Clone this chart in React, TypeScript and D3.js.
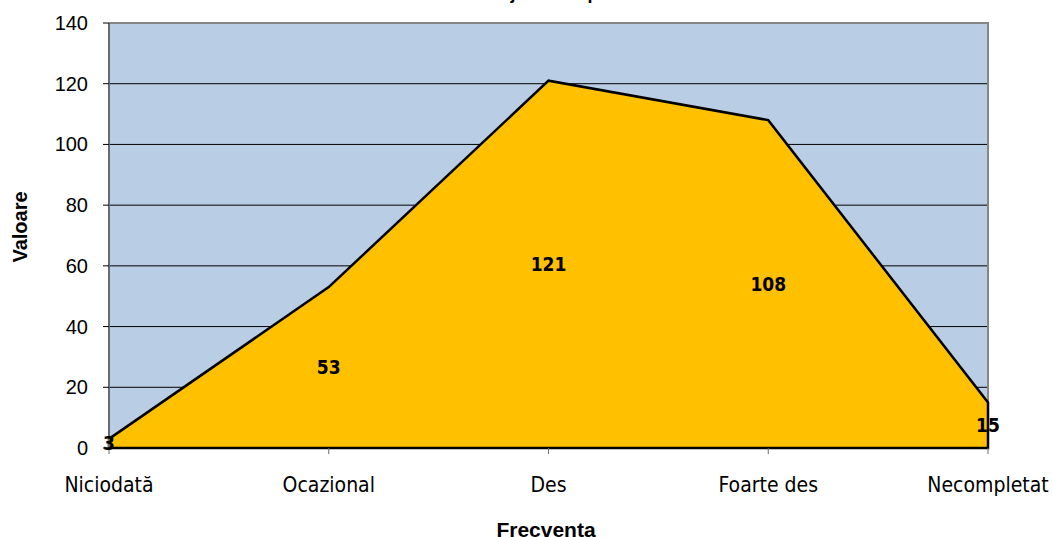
import React from 'react';
import * as d3 from 'd3';

const categories = ['Niciodată', 'Ocazional', 'Des', 'Foarte des', 'Necompletat'];
const values = [3, 53, 121, 108, 15];
const yTicks = [0, 20, 40, 60, 80, 100, 120, 140];

const W = 1052;
const H = 537;
const margin = { top: 23, right: 64, bottom: 89, left: 109 };

const App: React.FC = () => {
  const innerW = W - margin.left - margin.right;
  const innerH = H - margin.top - margin.bottom;

  const x = d3.scalePoint<string>().domain(categories).range([0, innerW]).padding(0);
  const y = d3.scaleLinear().domain([0, 140]).range([innerH, 0]);

  const pts: [number, number][] = values.map((v, i) => [x(categories[i])!, y(v)]);
  const area = d3
    .area<[number, number]>()
    .x((d) => d[0])
    .y0(y(0))
    .y1((d) => d[1]);
  const areaPath = area(pts)! + 'Z';

  const labelFont = '"DejaVu Sans Condensed", "DejaVu Sans", sans-serif';

  return (
    <svg
      width={W}
      height={H}
      style={{ position: 'absolute', left: 0, top: 0, background: '#ffffff' }}
    >
      {/* Title, clipped at the top of the picture */}
      <text
        x={562}
        y={-1}
        textAnchor="middle"
        fontFamily="Liberation Sans, Arial, sans-serif"
        fontWeight="bold"
        fontSize={18}
        fill="#000"
      >
        Utilizarea jocurilor pe calculator
      </text>

      <g transform={`translate(${margin.left},${margin.top})`}>
        <rect x={0} y={0} width={innerW} height={innerH} fill="#B9CDE5" />

        {/* gridlines */}
        {yTicks
          .filter((t) => t > 0 && t < 140)
          .map((t) => (
            <line key={t} x1={0} x2={innerW} y1={y(t)} y2={y(t)} stroke="#000" strokeWidth={1} />
          ))}

        {/* plot border top/right */}
        <line x1={0} x2={innerW + 1} y1={0} y2={0} stroke="#868686" strokeWidth={2} />
        <line x1={innerW} x2={innerW} y1={0} y2={innerH} stroke="#868686" strokeWidth={2} />

        {/* area */}
        <path d={areaPath} fill="#FFC000" stroke="#000" strokeWidth={2.5} strokeLinejoin="miter" />

        {/* y axis */}
        <line x1={0} x2={0} y1={0} y2={innerH} stroke="#6b6b6b" strokeWidth={2} />
        {yTicks.map((t) => (
          <g key={t} transform={`translate(0,${y(t)})`}>
            <line x1={-6} x2={0} y1={0} y2={0} stroke="#000" strokeWidth={1} />
            <text
              x={-21}
              dy="0.35em"
              textAnchor="end"
              fontFamily="Liberation Sans, Arial, sans-serif"
              fontSize={20}
              fill="#000"
            >
              {t}
            </text>
          </g>
        ))}

        {/* x axis ticks and labels */}
        {categories.map((c) => (
          <g key={c} transform={`translate(${x(c)},${innerH})`}>
            <line x1={0} x2={0} y1={0} y2={6} stroke="#6b6b6b" strokeWidth={1} />
            <text
              y={44}
              textAnchor="middle"
              fontFamily={labelFont}
              fontStretch="condensed"
              fontSize={21}
              fill="#000"
            >
              {c}
            </text>
          </g>
        ))}

        {/* data labels */}
        {values.map((v, i) => (
          <text
            key={i}
            x={x(categories[i])}
            y={y(v / 2)}
            dy="0.36em"
            textAnchor="middle"
            fontFamily={labelFont}
            fontStretch="condensed"
            fontWeight="bold"
            fontSize={19}
            fill="#000"
          >
            {v}
          </text>
        ))}
      </g>

      {/* axis titles */}
      <text
        transform={`translate(27,227) rotate(-90)`}
        textAnchor="middle"
        fontFamily="Liberation Sans, Arial, sans-serif"
        fontWeight="bold"
        fontSize={20}
        fill="#000"
      >
        Valoare
      </text>
      <text
        x={546}
        y={537}
        textAnchor="middle"
        fontFamily="Liberation Sans, Arial, sans-serif"
        fontWeight="bold"
        fontSize={21}
        fill="#000"
      >
        Frecventa
      </text>
    </svg>
  );
};

export default App;
